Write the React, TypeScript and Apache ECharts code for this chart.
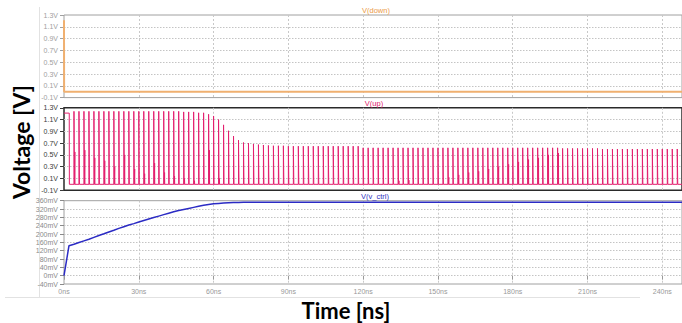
import React, { useEffect, useRef } from "react";
import * as echarts from "echarts";

// ---------------- data ----------------
const timeMax = 247.9; // ns, right edge of the plot
const timeInterval = 30;

// V(down): drops from 1.21 V to ~0 V at start, then flat
const downTimes = [0, 0.05, 247.9];
const downValues = [1.21, 0.0, 0.0];

// V(up): initial high level, then narrow pulses every 2 ns
const upInitTimes = [0, 2.1, 2.15];
const upInitValues = [1.21, 1.21, 0.0];
const upBase = 0.0;
const upPulseStart = 4; // ns
const upPulsePeriod = 2; // ns
const upPulseWidth = 0.2; // ns
const upPeaks = [
  1.24, 1.24, 1.24, 1.24, 1.24, 1.24, 1.24, 1.24, 1.24, 1.24, 1.24,
  1.24, 1.24, 1.24, 1.24, 1.24, 1.24, 1.24, 1.24, 1.24, 1.24, 1.24,
  1.23, 1.23, 1.23,
  1.215, 1.215,
  1.19, 1.16, 1.1, 1.01, 0.91, 0.82, 0.75, 0.71, 0.7, 0.685, 0.675, 0.668, 0.66,
  0.655, 0.655, 0.655,
  0.648, 0.648, 0.648, 0.648, 0.648, 0.648, 0.648, 0.648, 0.648, 0.648, 0.648, 0.648, 0.648, 0.648, 0.648,
  0.62, 0.62, 0.62, 0.62, 0.62, 0.62, 0.62, 0.62, 0.62, 0.62,
  0.62, 0.62, 0.62, 0.62, 0.62, 0.62, 0.62, 0.62, 0.62, 0.62,
  0.62, 0.62, 0.62, 0.62, 0.62, 0.62, 0.62, 0.62, 0.62, 0.62,
  0.62, 0.62, 0.62, 0.62, 0.62, 0.62, 0.62, 0.62, 0.62, 0.62,
  0.61, 0.61, 0.61, 0.61, 0.61, 0.61, 0.61, 0.61,
  0.6, 0.6, 0.6, 0.6, 0.6, 0.6, 0.6, 0.6, 0.6, 0.6, 0.6, 0.6, 0.6, 0.6, 0.6, 0.6,
];
// small glitch spikes right after some pulses: [pulse time ns, height V]
const upGlitches: [number, number][] = [
  [4, 0.55], [8, 0.58], [12, 0.45], [16, 0.4], [20, 0.3], [24, 0.5], [28, 0.26],
  [32, 0.18], [36, 0.36], [40, 0.2], [44, 0.14], [48, 0.1], [52, 0.06], [58, 0.58],
  [62, 0.1], [134, 0.06], [138, 0.07], [154, 0.12], [158, 0.16], [162, 0.2],
  [166, 0.22], [170, 0.26], [174, 0.3], [178, 0.34], [182, 0.38], [186, 0.42],
  [190, 0.45], [194, 0.5], [198, 0.53],
];

// V(v_ctrl) in mV
const ctrlTimes = [
  0, 2, 4, 6, 8, 10, 12, 14, 16, 18, 20, 22, 24, 26, 28, 30, 32, 34, 36, 38,
  40, 42, 44, 46, 48, 50, 52, 54, 56, 58, 60, 62, 64, 66, 68, 70, 72,
  100, 150, 200, 247.9,
];
const ctrlValues = [
  0, 144, 151, 159, 167, 175, 184, 193, 201, 210, 218, 227, 235, 243, 250, 258,
  265, 272, 279, 286, 293, 300, 307, 313, 318, 323, 328, 333, 338, 342, 345,
  347, 349, 350, 351, 351, 352,
  352, 352, 352, 352,
];

// ---------------- build series data ----------------
const zip = (a: number[], b: number[]) => a.map((t, i) => [t, b[i]]);

function buildUp() {
  const pts: number[][] = zip(upInitTimes, upInitValues);
  const glitchMap = new Map<number, number>(upGlitches);
  upPeaks.forEach((peak, k) => {
    const t = upPulseStart + k * upPulsePeriod;
    pts.push([t, upBase], [t, peak], [t + upPulseWidth, peak], [t + upPulseWidth, upBase]);
    const g = glitchMap.get(t);
    if (g !== undefined) {
      pts.push([t + 0.3, upBase], [t + 0.35, g], [t + 0.4, upBase]);
    }
  });
  pts.push([timeMax, upBase]);
  return pts;
}

const labelFont = "Liberation Sans, Arial, sans-serif";

function makeGrid(top: number, height: number, color: string, width: number) {
  return { left: 64, right: -1, top, height, show: true, borderColor: color, borderWidth: width, backgroundColor: "transparent" };
}

function makeX(idx: number, showLabels: boolean) {
  return {
    type: "value",
    gridIndex: idx,
    min: 0,
    max: timeMax,
    interval: timeInterval,
    axisLine: { show: false },
    axisTick: { show: showLabels, length: 4, lineStyle: { color: "#999" } },
    axisLabel: {
      show: showLabels,
      showMaxLabel: false,
      fontSize: 7,
      fontFamily: labelFont,
      color: "#999",
      margin: 4,
      formatter: (v: number) => `${Math.round(v)}ns`,
    },
    splitLine: {
      show: true,
      showMinLine: false,
      showMaxLine: false,
      lineStyle: { color: "#c8c8c8", type: [2, 2], width: 1 },
    },
  };
}

function makeY(idx: number, min: number, max: number, interval: number, color: string, fmt: (v: number) => string) {
  return {
    type: "value",
    gridIndex: idx,
    min,
    max,
    interval,
    axisLine: { show: false },
    axisTick: { show: true, length: 4, lineStyle: { color } },
    axisLabel: { fontSize: 7, fontFamily: labelFont, color, margin: 6, formatter: fmt, showMinLabel: true, showMaxLabel: true },
    splitLine: {
      show: true,
      showMinLine: false,
      showMaxLine: false,
      lineStyle: { color: "#c4c4c4", type: [1.5, 1.5], width: 1 },
    },
  };
}

export default function App() {
  const ref = useRef<HTMLDivElement>(null);
  useEffect(() => {
    const chart = echarts.init(ref.current!, null, { renderer: "svg" });
    const voltFmt = (v: number) => `${v.toFixed(1)}V`;
    const mvFmt = (v: number) => `${Math.round(v)}mV`;
    chart.setOption({
      animation: false,
      backgroundColor: "#ffffff",
      grid: [
        makeGrid(15, 82.6, "#a0a0a0", 1),
        makeGrid(107.8, 82.4, "#2a2a2a", 1.5),
        makeGrid(200.7, 83.3, "#a0a0a0", 1),
      ],
      xAxis: [makeX(0, false), makeX(1, false), makeX(2, true)],
      yAxis: [
        makeY(0, -0.1, 1.3, 0.2, "#a0a0a0", voltFmt),
        makeY(1, -0.1, 1.3, 0.2, "#3a3a3a", voltFmt),
        makeY(2, -40, 360, 40, "#8a8a8a", mvFmt),
      ],
      series: [
        {
          name: "V(down)",
          type: "line",
          xAxisIndex: 0,
          yAxisIndex: 0,
          data: zip(downTimes, downValues),
          symbol: "none",
          lineStyle: { color: "#f0b070", width: 2 },
        },
        {
          name: "V(up)",
          type: "line",
          xAxisIndex: 1,
          yAxisIndex: 1,
          data: buildUp(),
          symbol: "none",
          lineStyle: { color: "#e3206f", width: 1 },
        },
        {
          name: "V(v_ctrl)",
          type: "line",
          xAxisIndex: 2,
          yAxisIndex: 2,
          data: zip(ctrlTimes, ctrlValues),
          symbol: "none",
          lineStyle: { color: "#2b2bc4", width: 1.5 },
        },
      ],
      graphic: [
        { type: "line", shape: { x1: 39.5, y1: 7, x2: 39.5, y2: 298 }, style: { stroke: "#e2e2e2", lineWidth: 1 }, silent: true },
        { type: "line", shape: { x1: 5, y1: 297.5, x2: 640, y2: 297.5 }, style: { stroke: "#e2e2e2", lineWidth: 1 }, silent: true },
        {
          type: "text", x: 376, y: 10,
          style: { text: "V(down)", fill: "#eb9a45", fontSize: 7.5, fontFamily: labelFont, align: "center", verticalAlign: "middle" },
        },
        {
          type: "text", x: 374, y: 103.3,
          style: { text: "V(up)", fill: "#e0206a", fontSize: 7.5, fontFamily: labelFont, align: "center", verticalAlign: "middle" },
        },
        {
          type: "text", x: 375, y: 196,
          style: { text: "V(v_ctrl)", fill: "#3030c0", fontSize: 7.5, fontFamily: labelFont, align: "center", verticalAlign: "middle" },
        },
        {
          type: "text", x: 21, y: 142, rotation: Math.PI / 2,
          style: { text: "Voltage [V]", fill: "#000", fontSize: 23, fontWeight: "bold", fontFamily: "Lato, Liberation Sans, sans-serif", align: "center", verticalAlign: "middle" },
        },
        {
          type: "text", x: 346, y: 310,
          style: { text: "Time [ns]", fill: "#000", fontSize: 22, fontWeight: "bold", fontFamily: "Lato, Liberation Sans, sans-serif", align: "center", verticalAlign: "middle" },
        },
      ],
    });
    return () => chart.dispose();
  }, []);
  return (
    <div
      ref={ref}
      style={{ position: "fixed", left: 0, top: 0, width: 682, height: 323, background: "#fff" }}
    />
  );
}
